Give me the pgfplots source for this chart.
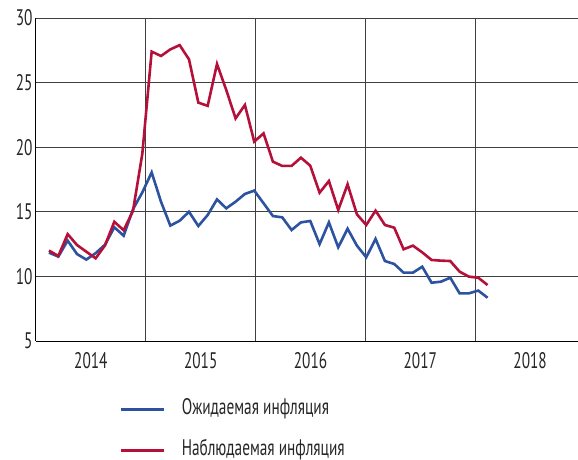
\documentclass[border=0pt]{standalone}
\usepackage{fontspec}
\setmainfont[FakeStretch=0.68]{PT Sans}
\usepackage{pgfplots}
\pgfplotsset{compat=1.18}
\definecolor{cblue}{RGB}{44,82,160}
\definecolor{cred}{RGB}{180,16,58}
\begin{document}
\begin{tikzpicture}
\path[use as bounding box] (-36pt,-119pt) rectangle (542pt,341pt);
\begin{axis}[
  at={(0pt,0pt)}, anchor=south west,
  scale only axis, width=542pt, height=323pt,
  xmin=0, xmax=59.23, ymin=5, ymax=30,
  axis x line*=bottom, axis y line*=left,
  axis line style={black, line width=1pt},
  xtick={6,18,30,42,54}, xticklabels={2014,2015,2016,2017,2018},
  minor xtick={12,24,36,48}, xminorgrids=true,
  ytick={5,10,15,20,25,30}, ymajorgrids=true,
  major tick length=0pt, minor tick length=0pt,
  major grid style={black!75, line width=0.9pt},
  minor grid style={black!75, line width=0.9pt},
  tick label style={font=\fontsize{22.5}{26}\selectfont, text=black!85},
  xticklabel style={yshift=-8pt},
  /pgf/number format/assume math mode=true,
  legend style={draw=none, fill=none, at={(0,0)}, anchor=north west,
    xshift=83pt, yshift=-58pt, inner sep=0pt,
    font=\fontsize{22.5}{26}\selectfont, text=black!85,
    row sep=21pt, column sep=17pt,
    nodes={inner sep=0pt, text height=15pt, text depth=5pt},
    cells={anchor=west}},
  legend image code/.code={\draw[#1] (0pt,0pt) -- (43pt,0pt);},
]
\addplot[cblue, line width=2.6pt] coordinates {
(1.42,11.84) (2.44,11.53) (3.46,12.77) (4.48,11.73) (5.50,11.30) (6.52,11.80)
(7.54,12.45) (8.56,13.80) (9.58,13.15) (10.60,15.20) (11.62,16.50) (12.64,18.05)
(13.66,15.78) (14.68,13.93) (15.70,14.31) (16.72,15.00) (17.74,13.90) (18.76,14.75)
(19.78,15.96) (20.79,15.27) (21.81,15.78) (22.83,16.38) (23.85,16.64) (24.87,15.66)
(25.89,14.67) (26.91,14.57) (27.93,13.59) (28.95,14.18) (29.97,14.29) (30.99,12.50)
(32.01,14.18) (33.03,12.25) (34.05,13.69) (35.07,12.38) (36.09,11.48) (37.11,12.90)
(38.13,11.19) (39.15,10.96) (40.17,10.29) (41.19,10.29) (42.21,10.75) (43.23,9.51)
(44.25,9.59) (45.27,9.90) (46.29,8.69) (47.31,8.69) (48.33,8.90) (49.35,8.35)
};
\addlegendentry{Ожидаемая инфляция}
\addplot[cred, line width=2.6pt] coordinates {
(1.42,12.00) (2.44,11.58) (3.46,13.27) (4.48,12.43) (5.50,11.91) (6.52,11.40)
(7.54,12.40) (8.56,14.23) (9.58,13.57) (10.60,15.07) (11.62,19.50) (12.64,27.40)
(13.66,27.06) (14.68,27.57) (15.70,27.90) (16.72,26.80) (17.74,23.45) (18.76,23.20)
(19.78,26.44) (20.79,24.43) (21.81,22.23) (22.83,23.27) (23.85,20.43) (24.87,21.07)
(25.89,18.88) (26.91,18.55) (27.93,18.55) (28.95,19.19) (29.97,18.57) (30.99,16.48)
(32.01,17.38) (33.03,15.14) (34.05,17.13) (35.07,14.80) (36.09,13.98) (37.11,15.09)
(38.13,13.98) (39.15,13.77) (40.17,12.10) (41.19,12.38) (42.21,11.86) (43.23,11.27)
(44.25,11.22) (45.27,11.19) (46.29,10.37) (47.31,9.98) (48.33,9.90) (49.35,9.33)
};
\addlegendentry{Наблюдаемая инфляция}
\end{axis}
\end{tikzpicture}
\end{document}
